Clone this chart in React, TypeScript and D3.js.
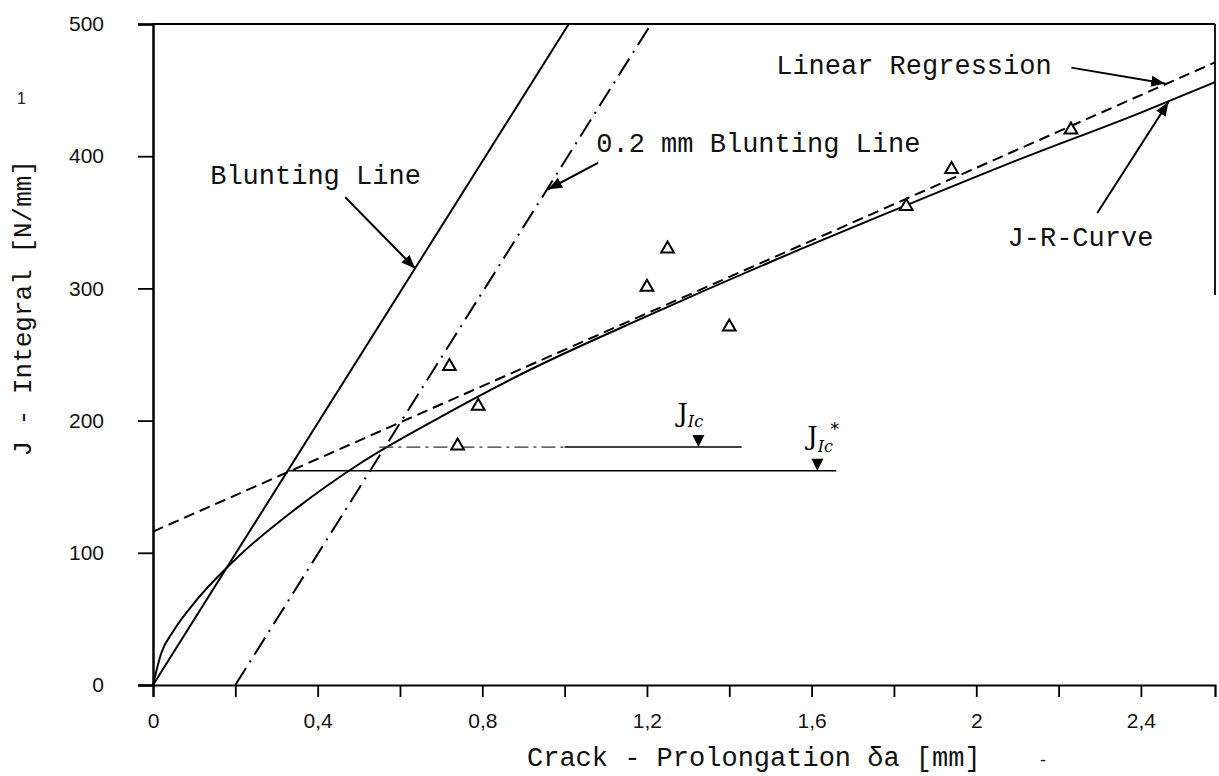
import { useEffect, useRef } from "react";
import * as d3 from "d3";

// ---- data ----
const xTickValues = [0, 0.2, 0.4, 0.6, 0.8, 1.0, 1.2, 1.4, 1.6, 1.8, 2.0, 2.2, 2.4];
const xTickLabels = ["0", "", "0,4", "", "0,8", "", "1,2", "", "1,6", "", "2", "", "2,4"];
const yTickValues = [0, 100, 200, 300, 400, 500];

// measured points (triangles)
const pointDa = [0.72, 0.74, 0.79, 1.2, 1.25, 1.4, 1.83, 1.94, 2.23];
const pointJ = [241, 181, 211, 301, 330, 271, 362, 390, 420];

// J-R curve
const curveDa = [0, 0.02, 0.05, 0.1, 0.2, 0.35, 0.5, 0.7, 0.9, 1.2, 1.5, 1.8, 2.1, 2.4, 2.58];
const curveJ = [0, 24, 41, 62, 95, 134, 167, 203, 236, 279, 320, 359, 397, 433, 456];

// straight lines (end points)
const bluntingDa = [0, 1.01];
const bluntingJ = [0, 500];
const blunting02Da = [0.2, 1.21];
const blunting02J = [0, 500];
const regressionDa = [0, 2.58];
const regressionJ = [116, 471];

// J_Ic levels
const jicLevel = 180;
const jicFrom = [0.55, 1.0];
const jicTo = [1.0, 1.43];
const jicMark = 1.325;
const jicStarLevel = 162;
const jicStarFrom = 0.325;
const jicStarTo = 1.66;
const jicStarMark = 1.614;

export default function App() {
  const ref = useRef<SVGSVGElement | null>(null);

  useEffect(() => {
    if (!ref.current) return;
    const width = 1219;
    const height = 776;

    const svg = d3.select(ref.current)
      .attr("width", width)
      .attr("height", height);
    svg.selectAll("*").remove();

    const x = d3.scaleLinear().domain([0, 2.58]).range([153, 1215]);
    const y = d3.scaleLinear().domain([0, 500]).range([685, 24]);

    const mono = "'Liberation Mono', 'DejaVu Sans Mono', monospace";
    const sans = "'Liberation Sans', Arial, sans-serif";

    svg.append("rect").attr("width", width).attr("height", height).attr("fill", "#fff");

    // arrow marker
    const defs = svg.append("defs");
    defs.append("marker")
      .attr("id", "arr")
      .attr("viewBox", "0 0 10 10")
      .attr("refX", 10)
      .attr("refY", 5)
      .attr("markerWidth", 7)
      .attr("markerHeight", 7)
      .attr("markerUnits", "strokeWidth")
      .attr("orient", "auto")
      .append("path")
      .attr("d", "M0,1 L10,5 L0,9 Z")
      .attr("fill", "#000");

    // -----------------------------
    // Axes
    // -----------------------------
    const xAxis = svg.append("g")
      .attr("transform", `translate(0,${y(0)})`)
      .call(d3.axisBottom(x)
        .tickValues(xTickValues)
        .tickSize(12)
        .tickPadding(16)
        .tickFormat((_d, i) => xTickLabels[i]));
    xAxis.select(".domain").attr("stroke-width", 2.2);
    xAxis.selectAll(".tick line").attr("stroke-width", 1.8);
    xAxis.selectAll("text")
      .attr("font-family", sans)
      .attr("font-size", 21)
      .attr("fill", "#111");

    const yAxis = svg.append("g")
      .attr("transform", `translate(${x(0)},0)`)
      .call(d3.axisLeft(y)
        .tickValues(yTickValues)
        .tickSize(15)
        .tickPadding(34)
        .tickFormat(d3.format("d")));
    yAxis.select(".domain").attr("stroke-width", 2.5);
    yAxis.selectAll(".tick line").attr("stroke-width", 1.8);
    yAxis.selectAll("text")
      .attr("font-family", sans)
      .attr("font-size", 21)
      .attr("fill", "#111");

    // frame top / right
    svg.append("line")
      .attr("x1", x(0)).attr("x2", 1215)
      .attr("y1", y(500)).attr("y2", y(500))
      .attr("stroke", "#000").attr("stroke-width", 2.2);
    svg.append("line")
      .attr("x1", 1215).attr("x2", 1215)
      .attr("y1", y(500)).attr("y2", 295)
      .attr("stroke", "#000").attr("stroke-width", 1.8);

    // axis titles
    svg.append("text")
      .attr("transform", `translate(31,${y(285)}) rotate(-90)`)
      .attr("text-anchor", "middle")
      .attr("font-family", mono)
      .attr("font-size", 26)
      .attr("fill", "#111")
      .text("J - Integral [N/mm]");

    svg.append("text")
      .attr("x", 527)
      .attr("y", 766)
      .attr("font-family", mono)
      .attr("font-size", 27)
      .attr("fill", "#111")
      .text("Crack - Prolongation \u03b4a [mm]");

    // scan marks
    svg.append("text").attr("x", 17).attr("y", 104)
      .attr("font-family", sans).attr("font-size", 16).attr("fill", "#222").text("1");
    svg.append("text").attr("x", 1040).attr("y", 766)
      .attr("font-family", sans).attr("font-size", 18).attr("fill", "#222").text("-");

    // -----------------------------
    // Lines
    // -----------------------------
    const line = d3.line<[number, number]>().x(d => x(d[0])).y(d => y(d[1]));
    const pairs = (a: number[], b: number[]) => a.map((v, i) => [v, b[i]] as [number, number]);

    svg.append("path")
      .attr("d", line(pairs(bluntingDa, bluntingJ)))
      .attr("fill", "none").attr("stroke", "#000").attr("stroke-width", 2);

    svg.append("path")
      .attr("d", line(pairs(blunting02Da, blunting02J)))
      .attr("fill", "none").attr("stroke", "#000").attr("stroke-width", 2)
      .attr("stroke-dasharray", "20 7 2 7");

    svg.append("path")
      .attr("d", line(pairs(regressionDa, regressionJ)))
      .attr("fill", "none").attr("stroke", "#000").attr("stroke-width", 2)
      .attr("stroke-dasharray", "11 6");

    const curve = d3.line<[number, number]>()
      .x(d => x(d[0])).y(d => y(d[1]))
      .curve(d3.curveMonotoneX);
    svg.append("path")
      .attr("d", curve(pairs(curveDa, curveJ)))
      .attr("fill", "none").attr("stroke", "#000").attr("stroke-width", 2);

    // J_Ic lines
    svg.append("line")
      .attr("x1", x(jicFrom[0])).attr("x2", x(jicTo[0]))
      .attr("y1", y(jicLevel)).attr("y2", y(jicLevel))
      .attr("stroke", "#333").attr("stroke-width", 1.2)
      .attr("stroke-dasharray", "14 5 3 5");
    svg.append("line")
      .attr("x1", x(jicFrom[1])).attr("x2", x(jicTo[1]))
      .attr("y1", y(jicLevel)).attr("y2", y(jicLevel))
      .attr("stroke", "#000").attr("stroke-width", 1.5);
    svg.append("line")
      .attr("x1", x(jicStarFrom)).attr("x2", x(jicStarTo))
      .attr("y1", y(jicStarLevel)).attr("y2", y(jicStarLevel))
      .attr("stroke", "#000").attr("stroke-width", 1.5);

    // down-pointing markers on J_Ic lines
    const downMark = (cx: number, cy: number) =>
      `M${cx - 6},${cy - 12} L${cx + 6},${cy - 12} L${cx},${cy} Z`;
    svg.append("path").attr("d", downMark(x(jicMark), y(jicLevel))).attr("fill", "#000");
    svg.append("path").attr("d", downMark(x(jicStarMark), y(jicStarLevel))).attr("fill", "#000");

    // J_Ic labels
    const jic = svg.append("text")
      .attr("x", x(jicMark) - 21).attr("y", y(jicLevel) - 25)
      .attr("font-family", "'DejaVu Serif', serif")
      .attr("font-size", 26).attr("fill", "#000");
    jic.append("tspan").text("J");
    jic.append("tspan").attr("font-size", 16).attr("dy", 5).attr("font-style", "italic").text("Ic");

    const jics = svg.append("text")
      .attr("x", x(jicStarMark) - 10).attr("y", y(jicStarLevel) - 26)
      .attr("font-family", "'DejaVu Serif', serif")
      .attr("font-size", 26).attr("fill", "#000");
    jics.append("tspan").text("J");
    jics.append("tspan").attr("font-size", 16).attr("dy", 7).attr("font-style", "italic").text("Ic");
    svg.append("text")
      .attr("x", x(jicStarMark) + 13).attr("y", y(jicStarLevel) - 36)
      .attr("font-family", "'DejaVu Sans', sans-serif")
      .attr("font-size", 18).attr("fill", "#000").text("*");

    // -----------------------------
    // Points
    // -----------------------------
    const tri = d3.symbol().type(d3.symbolTriangle).size(70);
    svg.append("g")
      .selectAll("path")
      .data(pairs(pointDa, pointJ))
      .join("path")
      .attr("d", tri)
      .attr("transform", d => `translate(${x(d[0])},${y(d[1])})`)
      .attr("fill", "#fff")
      .attr("stroke", "#000")
      .attr("stroke-width", 2);

    // -----------------------------
    // Annotations
    // -----------------------------
    const notes = [
      { text: "Blunting Line", tx: 0.139, ty: 379, from: [0.467, 369], to: [0.637, 315] },
      { text: "0.2 mm Blunting Line", tx: 1.077, ty: 403, from: [1.081, 395], to: [0.96, 375] },
      { text: "Linear Regression", tx: 1.514, ty: 462, from: [2.231, 467], to: [2.459, 455] },
      { text: "J-R-Curve", tx: 2.076, ty: 332, from: [2.294, 357], to: [2.467, 441] },
    ];
    notes.forEach(n => {
      svg.append("text")
        .attr("x", x(n.tx)).attr("y", y(n.ty))
        .attr("font-family", mono)
        .attr("font-size", 27)
        .attr("fill", "#111")
        .text(n.text);
      svg.append("line")
        .attr("x1", x(n.from[0])).attr("y1", y(n.from[1]))
        .attr("x2", x(n.to[0])).attr("y2", y(n.to[1]))
        .attr("stroke", "#000").attr("stroke-width", 2)
        .attr("marker-end", "url(#arr)");
    });
  }, []);

  return <svg ref={ref} style={{ position: "absolute", left: 0, top: 0 }}></svg>;
}
